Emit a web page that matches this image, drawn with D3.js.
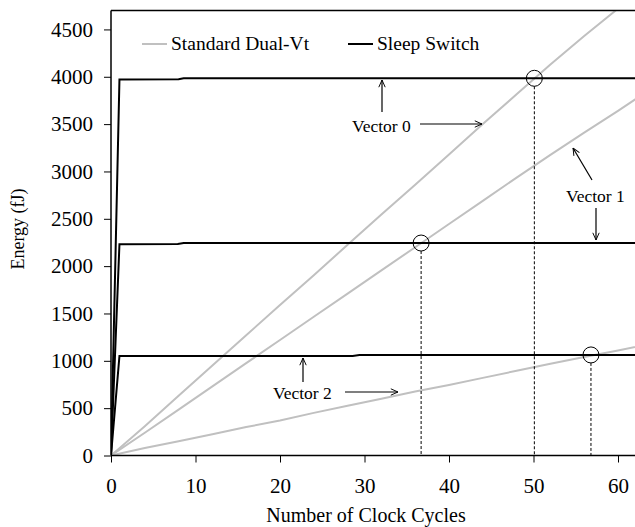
<!DOCTYPE html>
<html>
<head>
<meta charset="utf-8">
<script src="https://cdn.jsdelivr.net/npm/d3@7"></script>
<style>
body { margin: 0; background: #fff; }
svg { display: block; font-family: "Liberation Serif", "Times New Roman", serif; }
</style>
</head>
<body>
<div id="chart"></div>
<script>
// x = clock cycles, y = energy (fJ)
var xTicks = [0, 10, 20, 30, 40, 50, 60];
var yTicks = [0, 500, 1000, 1500, 2000, 2500, 3000, 3500, 4000, 4500];

// standard dual-Vt, read every 4 cycles
var stdCycles = [0, 4, 8, 12, 16, 20, 24, 28, 32, 36, 40, 44, 48, 52, 56, 60, 64];
var stdVector0 = [0, 310, 630, 950, 1270, 1590, 1905, 2225, 2545, 2860, 3180, 3500, 3815, 4130, 4430, 4720, 5010];
var stdVector1 = [0, 240, 485, 730, 975, 1220, 1465, 1710, 1955, 2200, 2445, 2690, 2935, 3175, 3410, 3640, 3880];
var stdVector2 = [0, 80, 150, 225, 300, 370, 450, 525, 600, 675, 745, 820, 895, 970, 1040, 1110, 1180];

// sleep switch
var sleepVector0 = [[0, 0], [1, 3972], [8, 3974], [8.6, 3984], [64, 3984]];
var sleepVector1 = [[0, 0], [1, 2232], [7.9, 2234], [8.6, 2244], [64, 2244]];
var sleepVector2 = [[0, 0], [1, 1052], [28.6, 1052], [29.4, 1062], [64, 1062]];

// break-even points
var crossCycles = [36.7, 50.1, 56.8];
var crossEnergy = [2244, 3984, 1062];

var width = 635, height = 527;
var margin = { top: 10.5, left: 111, bottom: 71.5 };

var x = d3.scaleLinear().domain([0, 60]).range([111, 618]);
var y = d3.scaleLinear().domain([0, 4700]).range([height - margin.bottom, margin.top]);

var svg = d3.select("#chart").append("svg")
     .attr("width", width)
     .attr("height", height);

svg.append("clipPath").attr("id", "plot")
     .append("rect")
     .attr("x", margin.left).attr("y", margin.top)
     .attr("width", width - margin.left).attr("height", y(0) - margin.top);

var line = d3.line()
     .x(function (d) { return x(d[0]); })
     .y(function (d) { return y(d[1]); });

var g = svg.append("g").attr("clip-path", "url(#plot)");

[stdVector0, stdVector1, stdVector2].forEach(function (vals) {
     var pts = stdCycles.map(function (c, i) { return [c, vals[i]]; });
     g.append("path")
          .attr("d", line(pts))
          .attr("fill", "none")
          .attr("stroke", "#c0c0c0")
          .attr("stroke-width", 2);
});

[sleepVector0, sleepVector1, sleepVector2].forEach(function (pts) {
     g.append("path")
          .attr("d", line(pts))
          .attr("fill", "none")
          .attr("stroke", "#000")
          .attr("stroke-width", 2);
});

// dashed drops + circles
crossCycles.forEach(function (c, i) {
     g.append("line")
          .attr("x1", x(c)).attr("x2", x(c))
          .attr("y1", y(crossEnergy[i]) + 8).attr("y2", y(0))
          .attr("stroke", "#000")
          .attr("stroke-width", 1)
          .attr("stroke-dasharray", "3,2");
     g.append("circle")
          .attr("cx", x(c)).attr("cy", y(crossEnergy[i]))
          .attr("r", 8)
          .attr("fill", "none")
          .attr("stroke", "#000")
          .attr("stroke-width", 1);
});

// frame
svg.append("line")
     .attr("x1", margin.left).attr("x2", width)
     .attr("y1", margin.top).attr("y2", margin.top)
     .attr("stroke", "#000").attr("stroke-width", 1.5);

var xAxis = svg.append("g")
     .attr("transform", "translate(0," + y(0) + ")")
     .call(d3.axisBottom(x).tickValues(xTicks).tickFormat(d3.format("d"))
          .tickSize(7).tickSizeOuter(0).tickPadding(16));
xAxis.select(".domain").attr("d", "M" + margin.left + ",0H" + width).attr("stroke-width", 1.5);

var yAxis = svg.append("g")
     .attr("transform", "translate(" + margin.left + ",0)")
     .call(d3.axisLeft(y).tickValues(yTicks).tickFormat(d3.format("d"))
          .tickSize(7).tickSizeOuter(0).tickPadding(11));
yAxis.select(".domain").attr("d", "M0," + y(0) + "V" + margin.top).attr("stroke-width", 1.5);

svg.selectAll(".tick text")
     .attr("font-family", "Liberation Serif")
     .attr("font-size", 21)
     .attr("fill", "#000");

svg.append("text")
     .attr("x", 366).attr("y", 522)
     .attr("text-anchor", "middle")
     .attr("font-size", 20)
     .text("Number of Clock Cycles");

svg.append("text")
     .attr("transform", "translate(24,229) rotate(-90)")
     .attr("text-anchor", "middle")
     .attr("font-size", 18)
     .text("Energy (fJ)");

// legend
var legend = [
     { name: "Standard Dual-Vt", color: "#c0c0c0", x0: 142 },
     { name: "Sleep Switch", color: "#000", x0: 348 }
];
legend.forEach(function (d) {
     svg.append("line")
          .attr("x1", d.x0).attr("x2", d.x0 + 25)
          .attr("y1", 44).attr("y2", 44)
          .attr("stroke", d.color).attr("stroke-width", 2);
     svg.append("text")
          .attr("x", d.x0 + 29).attr("y", 50)
          .attr("font-size", 19.5)
          .text(d.name);
});

// annotations
svg.append("defs").append("marker")
     .attr("id", "arr")
     .attr("viewBox", "0 0 10 10")
     .attr("refX", 10).attr("refY", 5)
     .attr("markerWidth", 8).attr("markerHeight", 8)
     .attr("markerUnits", "userSpaceOnUse")
     .attr("orient", "auto")
     .append("path")
     .attr("d", "M1,1L10,5L1,9")
     .attr("fill", "none")
     .attr("stroke", "#000")
     .attr("stroke-width", 1.2);

var notes = [
     { label: "Vector 0", tx: 352, ty: 132, arrows: [[382, 112, 382, 80], [420, 124, 482, 124]] },
     { label: "Vector 1", tx: 566, ty: 202, arrows: [[592, 180, 573, 148], [596, 208, 596, 240]] },
     { label: "Vector 2", tx: 273, ty: 399, arrows: [[303, 382, 303, 358], [345, 392, 398, 392]] }
];
notes.forEach(function (n) {
     svg.append("text")
          .attr("x", n.tx).attr("y", n.ty)
          .attr("font-size", 17.5)
          .text(n.label);
     n.arrows.forEach(function (a) {
          svg.append("line")
               .attr("x1", a[0]).attr("y1", a[1])
               .attr("x2", a[2]).attr("y2", a[3])
               .attr("stroke", "#000").attr("stroke-width", 1.2)
               .attr("marker-end", "url(#arr)");
     });
});
</script>
</body>
</html>
